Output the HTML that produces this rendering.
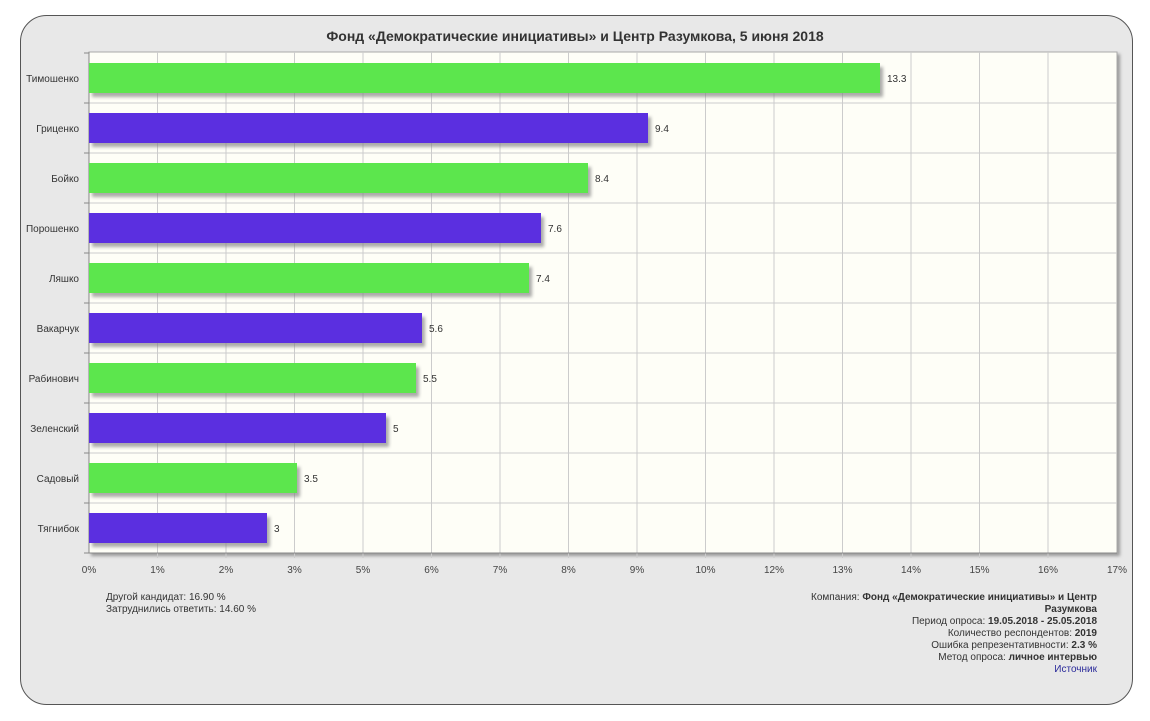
<!DOCTYPE html>
<html><head><meta charset="utf-8"><style>
body{margin:0;background:#fff;width:1150px;height:716px;overflow:hidden;font-family:"Liberation Sans",sans-serif;}
</style></head><body>
<svg width="1150" height="716" xmlns="http://www.w3.org/2000/svg" font-family="Liberation Sans, sans-serif">
<defs><filter id="b" x="-5%" y="-30%" width="110%" height="160%"><feGaussianBlur stdDeviation="1.5"/></filter></defs>
<rect x="20.5" y="15.5" width="1112" height="689" rx="26" fill="#e8e8e8" stroke="#555" stroke-width="1"/>
<text x="575" y="41" text-anchor="middle" font-size="14" font-weight="bold" fill="#333">Фонд «Демократические инициативы» и Центр Разумкова, 5 июня 2018</text>
<rect x="91" y="54" width="1029" height="502" fill="#999" filter="url(#b)"/>
<rect x="89" y="52" width="1028" height="501" fill="#fefef7" stroke="#aaa"/>
<g stroke="#ccc" stroke-width="1">
<line x1="157.5" y1="52" x2="157.5" y2="558"/><line x1="226" y1="52" x2="226" y2="558"/><line x1="294.5" y1="52" x2="294.5" y2="558"/><line x1="363" y1="52" x2="363" y2="558"/><line x1="431.5" y1="52" x2="431.5" y2="558"/><line x1="500" y1="52" x2="500" y2="558"/><line x1="568.5" y1="52" x2="568.5" y2="558"/><line x1="637" y1="52" x2="637" y2="558"/><line x1="705.5" y1="52" x2="705.5" y2="558"/><line x1="774" y1="52" x2="774" y2="558"/><line x1="842.5" y1="52" x2="842.5" y2="558"/><line x1="911" y1="52" x2="911" y2="558"/><line x1="979.5" y1="52" x2="979.5" y2="558"/><line x1="1048" y1="52" x2="1048" y2="558"/>
<line x1="89" y1="103" x2="1117" y2="103"/><line x1="89" y1="153" x2="1117" y2="153"/><line x1="89" y1="203" x2="1117" y2="203"/><line x1="89" y1="253" x2="1117" y2="253"/><line x1="89" y1="303" x2="1117" y2="303"/><line x1="89" y1="353" x2="1117" y2="353"/><line x1="89" y1="403" x2="1117" y2="403"/><line x1="89" y1="453" x2="1117" y2="453"/><line x1="89" y1="503" x2="1117" y2="503"/>
</g>
<g stroke="#888"><line x1="89" y1="52" x2="89" y2="553"/><line x1="89" y1="553" x2="1117" y2="553"/>
<line x1="84" y1="53" x2="89" y2="53"/><line x1="84" y1="103" x2="89" y2="103"/><line x1="84" y1="153" x2="89" y2="153"/><line x1="84" y1="203" x2="89" y2="203"/><line x1="84" y1="253" x2="89" y2="253"/><line x1="84" y1="303" x2="89" y2="303"/><line x1="84" y1="353" x2="89" y2="353"/><line x1="84" y1="403" x2="89" y2="403"/><line x1="84" y1="453" x2="89" y2="453"/><line x1="84" y1="503" x2="89" y2="503"/><line x1="84" y1="553" x2="89" y2="553"/></g>
<g fill="#888" opacity="0.7" filter="url(#b)">
<rect x="92" y="67" width="791" height="30"/><rect x="92" y="117" width="559" height="30"/><rect x="92" y="167" width="499" height="30"/><rect x="92" y="217" width="452" height="30"/><rect x="92" y="267" width="440" height="30"/><rect x="92" y="317" width="333" height="30"/><rect x="92" y="367" width="327" height="30"/><rect x="92" y="417" width="297" height="30"/><rect x="92" y="467" width="208" height="30"/><rect x="92" y="517" width="178" height="30"/>
</g>
<rect x="89" y="63" width="791" height="30" fill="#5ce64d"/>
<rect x="89" y="113" width="559" height="30" fill="#5b2fe0"/>
<rect x="89" y="163" width="499" height="30" fill="#5ce64d"/>
<rect x="89" y="213" width="452" height="30" fill="#5b2fe0"/>
<rect x="89" y="263" width="440" height="30" fill="#5ce64d"/>
<rect x="89" y="313" width="333" height="30" fill="#5b2fe0"/>
<rect x="89" y="363" width="327" height="30" fill="#5ce64d"/>
<rect x="89" y="413" width="297" height="30" fill="#5b2fe0"/>
<rect x="89" y="463" width="208" height="30" fill="#5ce64d"/>
<rect x="89" y="513" width="178" height="30" fill="#5b2fe0"/>
<g font-size="10" fill="#333">
<text x="887" y="82">13.3</text><text x="655" y="132">9.4</text><text x="595" y="182">8.4</text><text x="548" y="232">7.6</text><text x="536" y="282">7.4</text><text x="429" y="332">5.6</text><text x="423" y="382">5.5</text><text x="393" y="432">5</text><text x="304" y="482">3.5</text><text x="274" y="532">3</text>
</g>
<g font-size="10" fill="#333" text-anchor="end">
<text x="79" y="82">Тимошенко</text><text x="79" y="132">Гриценко</text><text x="79" y="182">Бойко</text><text x="79" y="232">Порошенко</text><text x="79" y="282">Ляшко</text><text x="79" y="332">Вакарчук</text><text x="79" y="382">Рабинович</text><text x="79" y="432">Зеленский</text><text x="79" y="482">Садовый</text><text x="79" y="532">Тягнибок</text>
</g>
<g font-size="10" fill="#444" text-anchor="middle">
<text x="89" y="573">0%</text><text x="157.5" y="573">1%</text><text x="226" y="573">2%</text><text x="294.5" y="573">3%</text><text x="363" y="573">5%</text><text x="431.5" y="573">6%</text><text x="500" y="573">7%</text><text x="568.5" y="573">8%</text><text x="637" y="573">9%</text><text x="705.5" y="573">10%</text><text x="774" y="573">12%</text><text x="842.5" y="573">13%</text><text x="911" y="573">14%</text><text x="979.5" y="573">15%</text><text x="1048" y="573">16%</text><text x="1117" y="573">17%</text>
</g>
<g font-size="10" fill="#333">
<text x="106" y="600">Другой кандидат: 16.90 %</text>
<text x="106" y="612">Затруднились ответить: 14.60 %</text>
</g>
<g font-size="10" fill="#333" text-anchor="end">
<text x="1097" y="600">Компания: <tspan font-weight="bold">Фонд «Демократические инициативы» и Центр</tspan></text>
<text x="1097" y="612" font-weight="bold">Разумкова</text>
<text x="1097" y="624">Период опроса: <tspan font-weight="bold">19.05.2018 - 25.05.2018</tspan></text>
<text x="1097" y="636">Количество респондентов: <tspan font-weight="bold">2019</tspan></text>
<text x="1097" y="648">Ошибка репрезентативности: <tspan font-weight="bold">2.3 %</tspan></text>
<text x="1097" y="660">Метод опроса: <tspan font-weight="bold">личное интервью</tspan></text>
<text x="1097" y="672" fill="#2a2a9a">Источник</text>
</g>
</svg>
</body></html>
